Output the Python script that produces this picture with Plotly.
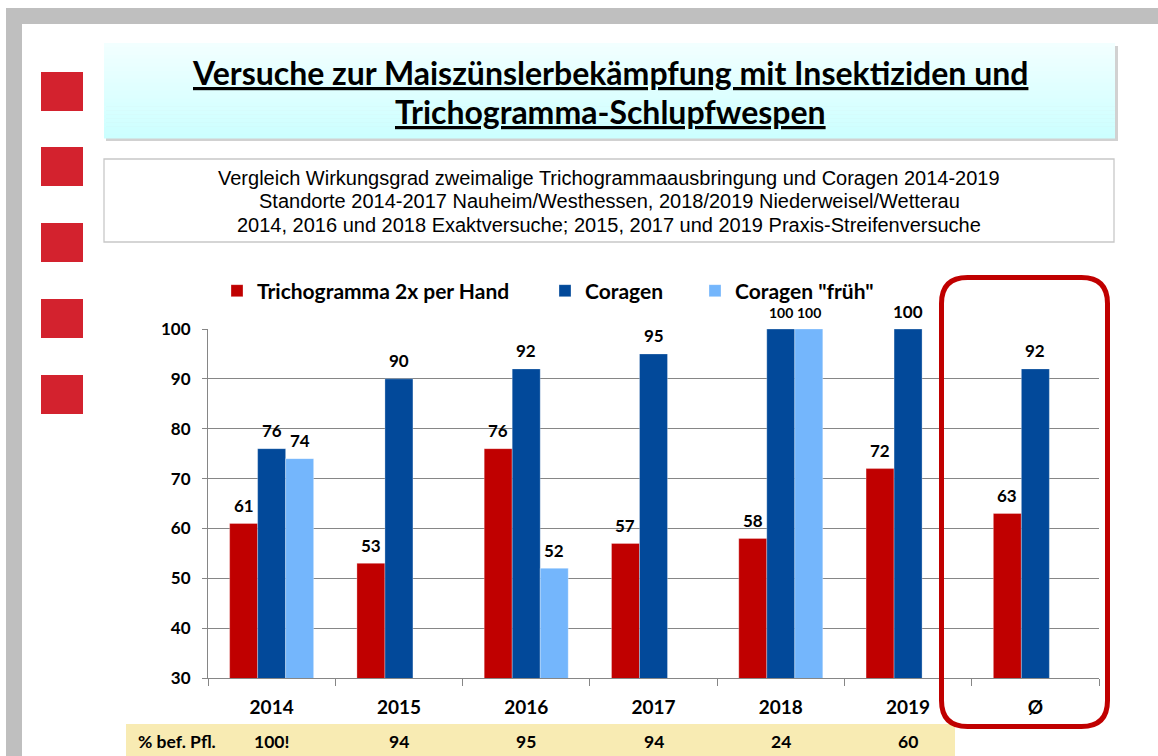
import plotly.graph_objects as go

categories = ['2014', '2015', '2016', '2017', '2018', '2019', 'Ø']
tricho = [61, 53, 76, 57, 58, 72, 63]
coragen = [76, 90, 92, 95, 100, 100, 92]
coragen_frueh = [74, None, 52, None, 100, None, None]
pct_years = ['2014', '2015', '2016', '2017', '2018', '2019']
pct_values = ['100!', '94', '95', '94', '24', '60']
pct_label = '% bef. Pfl.'
series_names = ['Trichogramma 2x per Hand', 'Coragen', 'Coragen "früh"']
title_lines = ['Versuche zur Maiszünslerbekämpfung mit Insektiziden und',
               'Trichogramma-Schlupfwespen']
subtitle_lines = ['Vergleich Wirkungsgrad zweimalige Trichogrammaausbringung und Coragen 2014-2019',
                  'Standorte 2014-2017 Nauheim/Westhessen, 2018/2019 Niederweisel/Wetterau',
                  '2014, 2016 und 2018 Exaktversuche; 2015, 2017 und 2019 Praxis-Streifenversuche']

W, H = 1158, 756
PL, PR, PT, PB = 208, 1099, 329, 678
PW, PH = PR - PL, PB - PT
BARGAP = 0.34
BAR_PX = (1 - BARGAP) / 3 * PW / len(categories)


def px(x):
    return (x - PL) / PW


def py(y):
    return (PB - y) / PH


RED = '#C00000'
BLUE = '#02499A'
LIGHT = '#74B6FC'
FONT = 'Lato'

fig = go.Figure()
colors = [RED, BLUE, LIGHT]
datas = [tricho, coragen, coragen_frueh]
annotations = []
for i, (name, vals, col) in enumerate(zip(series_names, datas, colors)):
    fig.add_trace(go.Bar(
        x=categories, y=vals, name=name,
        marker=dict(color=col, line=dict(width=0.6, color='rgba(255,255,255,0.5)')),
        legend='legend' if i == 0 else f'legend{i+1}',
        hoverinfo='skip',
    ))
    # value labels above bars
    for j, v in enumerate(vals):
        if v is None:
            continue
        crowded = (categories[j] == '2018' and i > 0)
        annotations.append(dict(
            text=f'<b>{v}</b>', xref='x', yref='y', x=j, y=v,
            xshift=(i - 1) * BAR_PX, yshift=18 if not crowded else 17,
            xanchor='center', yanchor='middle', showarrow=False,
            font=dict(family=FONT, size=14 if crowded else 17, color='black')))

shapes = []
# grey frame
shapes.append(dict(type='rect', xref='paper', yref='paper', x0=px(6), x1=px(22), y0=py(8), y1=py(760),
                   fillcolor='#BFBFBF', line=dict(width=0), layer='above'))
shapes.append(dict(type='rect', xref='paper', yref='paper', x0=px(6), x1=px(1160), y0=py(8), y1=py(24),
                   fillcolor='#BFBFBF', line=dict(width=0), layer='above'))
# red squares
for top in [72, 147, 223, 299, 375]:
    shapes.append(dict(type='rect', xref='paper', yref='paper', x0=px(41), x1=px(83), y0=py(top), y1=py(top + 39),
                       fillcolor='#D3222E', line=dict(width=0), layer='above'))
# title box shadow
shapes.append(dict(type='rect', xref='paper', yref='paper', x0=px(106), x1=px(1118), y0=py(46), y1=py(141),
                   fillcolor='rgba(0,0,0,0.18)', line=dict(width=0), layer='above'))
# title box gradient
n = 24
t0, t1 = 43, 138
c_top = (242, 255, 255)
c_bot = (204, 255, 255)
for k in range(n):
    a = t0 + (t1 - t0) * k / n
    b = t0 + (t1 - t0) * (k + 1) / n
    f = k / (n - 1)
    c = tuple(round(c_top[j] + (c_bot[j] - c_top[j]) * f) for j in range(3))
    shapes.append(dict(type='rect', xref='paper', yref='paper', x0=px(104), x1=px(1115), y0=py(a), y1=py(b + 0.5),
                       fillcolor='rgb(%d,%d,%d)' % c, line=dict(width=0), layer='above'))
# subtitle box
shapes.append(dict(type='rect', xref='paper', yref='paper', x0=px(104), x1=px(1114), y0=py(159), y1=py(242),
                   fillcolor='white', line=dict(width=1.3, color='#C8C8C8'), layer='above'))
# table row
shapes.append(dict(type='rect', xref='paper', yref='paper', x0=px(126), x1=px(955), y0=py(724), y1=py(760),
                   fillcolor='#F8EBB3', line=dict(width=0), layer='above'))
# red rounded rectangle
x0, x1, y0, y1, r = 941.5, 1107.5, 277.5, 726.5, 26
path = (f'M {px(x0 + r)},{py(y0)} L {px(x1 - r)},{py(y0)} Q {px(x1)},{py(y0)} {px(x1)},{py(y0 + r)} '
        f'L {px(x1)},{py(y1 - r)} Q {px(x1)},{py(y1)} {px(x1 - r)},{py(y1)} '
        f'L {px(x0 + r)},{py(y1)} Q {px(x0)},{py(y1)} {px(x0)},{py(y1 - r)} '
        f'L {px(x0)},{py(y0 + r)} Q {px(x0)},{py(y0)} {px(x0 + r)},{py(y0)} Z')
shapes.append(dict(type='path', xref='paper', yref='paper', path=path,
                   line=dict(color=RED, width=5), layer='above'))

for line, yy in zip(title_lines, [73, 112]):
    annotations.append(dict(text=f'<b><u>{line}</u></b>', xref='paper', yref='paper', x=px(610), y=py(yy),
                            xanchor='center', yanchor='middle', showarrow=False,
                            font=dict(family=FONT, size=32, color='black')))
for line, yy in zip(subtitle_lines, [178, 201, 225]):
    annotations.append(dict(text=line, xref='paper', yref='paper', x=px(609), y=py(yy),
                            xanchor='center', yanchor='middle', showarrow=False,
                            font=dict(family='Liberation Sans', size=20, color='black')))
annotations.append(dict(text=f'<b>{pct_label}</b>', xref='paper', yref='paper', x=px(136), y=py(741),
                        xanchor='left', yanchor='middle', showarrow=False,
                        font=dict(family=FONT, size=17.5, color='black')))
for yr, v in zip(pct_years, pct_values):
    idx = categories.index(yr)
    annotations.append(dict(text=f'<b>{v}</b>', xref='x', yref='paper', x=idx, y=py(741),
                            xanchor='center', yanchor='middle', showarrow=False,
                            font=dict(family=FONT, size=17.5, color='black')))

leg_common = dict(orientation='h', yanchor='middle', xanchor='left', bgcolor='rgba(0,0,0,0)',
                  borderwidth=0, font=dict(family=FONT, size=21, color='black', weight='bold'))
fig.update_layout(
    width=W, height=H,
    margin=dict(l=PL, r=W - PR, t=PT, b=H - PB, pad=0),
    paper_bgcolor='white', plot_bgcolor='white',
    barmode='group', bargap=BARGAP, bargroupgap=0,
    showlegend=True,
    legend=dict(x=px(217), y=py(291), **leg_common),
    legend2=dict(x=px(545), y=py(291), **leg_common),
    legend3=dict(x=px(695), y=py(291), **leg_common),
    xaxis=dict(type='category', range=[-0.5, len(categories) - 0.5], fixedrange=True,
               showline=True, linecolor='#868686', linewidth=1,
               ticks='outside', tickson='boundaries', ticklen=7, tickcolor='#868686',
               tickfont=dict(family=FONT, size=19, color='black', weight='bold'),
               ticklabelstandoff=12, showgrid=False),
    yaxis=dict(range=[30, 100], dtick=10, tick0=30, showline=True, linecolor='#868686', linewidth=1,
               ticks='outside', ticklen=5, tickcolor='#868686',
               gridcolor='#868686', gridwidth=1, fixedrange=True,
               tickfont=dict(family=FONT, size=17, color='black', weight='bold'),
               ticklabelstandoff=8, zeroline=False),
    shapes=shapes, annotations=annotations,
)

fig.write_html('out.html', config={'displayModeBar': False},
               post_script="document.body.style.margin='0';document.body.style.padding='0';")
